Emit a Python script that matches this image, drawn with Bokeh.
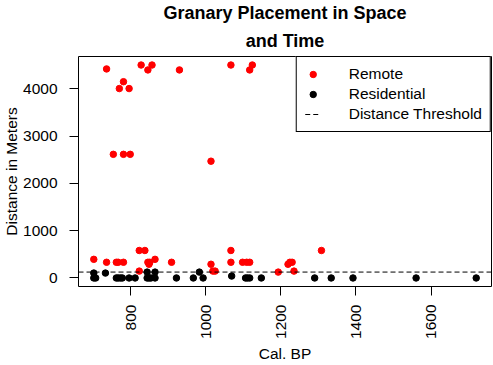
import math
from bokeh.plotting import figure
from bokeh.models import Range1d, FixedTicker, Title
from bokeh.embed import file_html
from bokeh.resources import INLINE

# Remote granaries (Cal. BP, distance in meters)
remote_bp = [702, 736, 762, 767, 781, 823, 838, 823, 846, 851, 849, 865, 909,
             1014, 1019, 1025, 1067, 1067, 1098, 1109, 1117, 1193, 1219, 1224,
             1230, 1235, 1308,
             736, 781, 770, 796, 828, 857, 846, 930, 754, 781, 799, 1014,
             1067, 1124, 1117]
remote_dist = [394, 332, 332, 332, 332, 581, 581, 145, 332, 332, 290, 394, 332,
               290, 145, 145, 581, 332, 332, 332, 332, 124, 290, 332,
               332, 145, 581,
               4419, 4149, 4004, 4004, 4502, 4502, 4398, 4398, 2614, 2614, 2614, 2469,
               4502, 4502, 4398]

# Residential granaries
resid_bp = [702, 702, 707, 733, 762, 767, 773, 778, 796, 812, 844, 844, 849, 854,
            865, 865, 922, 967, 983, 993, 1069, 1106, 1111, 1117, 1148, 1290,
            1334, 1392, 1560, 1720]
resid_dist = [104, 0, 0, 104, 0, 0, 0, 0, 0, 0, 124, 0, 0, 0,
              124, 0, 0, 0, 124, 0, 41, 0, 0, 0, 0, 0,
              0, 0, 0, 0]

threshold = 125

x_ticks = [800, 1000, 1200, 1400, 1600]
y_ticks = [0, 1000, 2000, 3000, 4000]

title_lines = ["Granary Placement in Space", "and Time"]

FONT = "Liberation Sans"
FS = "15.5px"

all_x = remote_bp + resid_bp
all_y = remote_dist + resid_dist
xpad = 0.04 * (max(all_x) - min(all_x))
ypad = 0.04 * (max(all_y) - min(all_y))
x_lo, x_hi = min(all_x) - xpad, max(all_x) + xpad
y_lo, y_hi = min(all_y) - ypad, max(all_y) + ypad

p = figure(width=492, height=364, output_backend="svg", toolbar_location=None,
           title=None,
           x_range=Range1d(x_lo, x_hi), y_range=Range1d(y_lo, y_hi),
           min_border_left=74, min_border_right=1, min_border_top=56,
           min_border_bottom=74)

# first added Title sits closest to the frame
for i, line in enumerate(reversed(title_lines)):
    t = Title(text=line, align="center", text_font=FONT, text_font_size="18px",
              text_font_style="bold", text_color="black",
              standoff=(12 if i == 0 else 0))
    p.add_layout(t, "above")

p.scatter(remote_bp, remote_dist, size=6.5, color="#FF0000", legend_label="Remote")
p.scatter(resid_bp, resid_dist, size=6.5, color="black", legend_label="Residential")
p.line([x_lo, x_hi], [threshold, threshold], line_color="black", line_width=1,
       line_dash="5 3", legend_label="Distance Threshold")

p.grid.visible = False
p.outline_line_color = "black"
p.outline_line_width = 1
p.outline_line_alpha = 1.0

p.xaxis.ticker = FixedTicker(ticks=x_ticks)
p.yaxis.ticker = FixedTicker(ticks=y_ticks)
p.xaxis.axis_label = "Cal. BP"
p.yaxis.axis_label = "Distance in Meters"
p.xaxis.major_label_orientation = math.pi / 2
for ax in (p.xaxis, p.yaxis):
    ax.axis_line_color = None
    ax.major_tick_line_color = "black"
    ax.major_tick_out = 9
    ax.major_tick_in = 0
    ax.minor_tick_line_color = None
    ax.major_label_text_font = FONT
    ax.major_label_text_font_size = FS
    ax.major_label_text_color = "black"
    ax.axis_label_text_font = FONT
    ax.axis_label_text_font_size = FS
    ax.axis_label_text_font_style = "normal"
    ax.axis_label_text_color = "black"
p.yaxis.major_label_standoff = 12
p.xaxis.major_label_standoff = 9
p.yaxis.axis_label_standoff = 0
p.xaxis.axis_label_standoff = 3

leg = p.legend[0]
leg.location = "top_right"
leg.margin = 0
leg.padding = 8
leg.spacing = 2
leg.glyph_width = 16
leg.glyph_height = 18
leg.label_height = 18
leg.label_standoff = 28
leg.label_text_font = FONT
leg.label_text_font_size = FS
leg.label_text_color = "black"
leg.border_line_color = "black"
leg.border_line_width = 1
leg.border_line_alpha = 1.0
leg.background_fill_alpha = 1.0

open("out.html", "w").write(file_html(p, INLINE))
